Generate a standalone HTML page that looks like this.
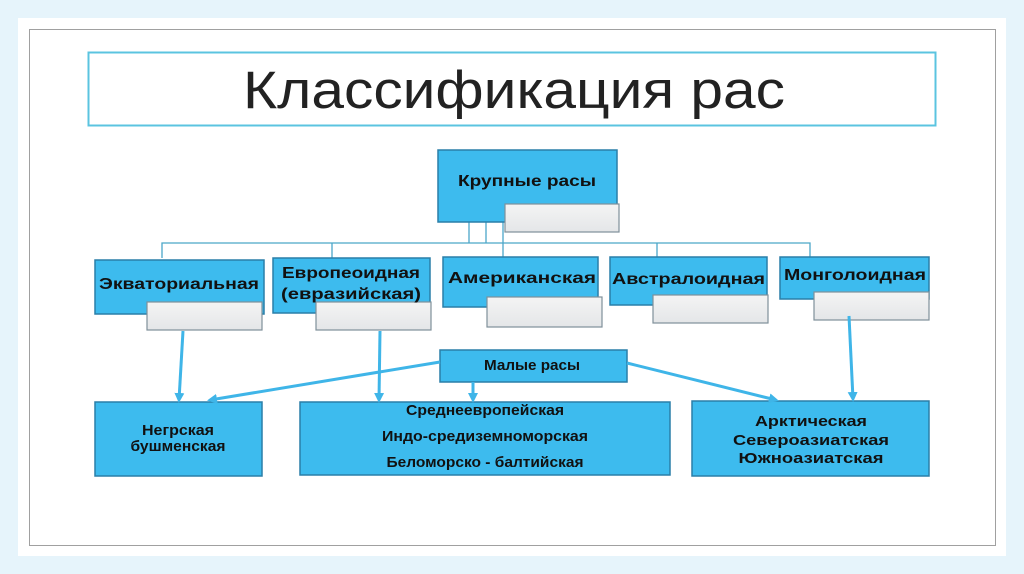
<!DOCTYPE html>
<html><head><meta charset="utf-8"><style>
html,body{margin:0;padding:0;background:#e6f4fb;}
svg{display:block}
text{font-family:"Liberation Sans",sans-serif;}
</style></head><body>
<svg width="1024" height="574" viewBox="0 0 1024 574" xmlns="http://www.w3.org/2000/svg">
<defs>
<linearGradient id="g" x1="0" y1="0" x2="0" y2="1"><stop offset="0" stop-color="#f4f4f4"/><stop offset="1" stop-color="#e4e6e8"/></linearGradient>
<marker id="a" markerWidth="10" markerHeight="10" refX="7" refY="5" orient="auto" markerUnits="userSpaceOnUse"><path d="M0,0 L10,5 L0,10 z" fill="#3fb5e8"/></marker>
</defs>
<rect x="0" y="0" width="1024" height="574" fill="#e6f4fb"/>
<rect x="18" y="18" width="988" height="538" fill="#fff"/>
<rect x="29.5" y="29.5" width="966" height="516" fill="none" stroke="#a0a0a0" stroke-width="1"/>
<rect x="88.5" y="52.5" width="847" height="73" fill="#fff" stroke="#5bc4e0" stroke-width="2"/>
<text x="243" y="108" font-size="53" fill="#222" textLength="542" lengthAdjust="spacingAndGlyphs">Классификация рас</text>

<g stroke="#4aa6c8" stroke-width="1.3" fill="none">
<path d="M162,258 V243 H810 V257"/>
<path d="M332,243 V258"/><path d="M657,243 V257"/>
<path d="M469,222 V243"/><path d="M486,222 V243"/><path d="M503,222 V257"/>
</g>

<g fill="#3dbbee" stroke="#2a7fa8" stroke-width="1.5">
<rect x="438" y="150" width="179" height="72"/>
<rect x="95" y="260" width="169" height="54"/>
<rect x="273" y="258" width="157" height="55"/>
<rect x="443" y="257" width="155" height="50"/>
<rect x="610" y="257" width="157" height="48"/>
<rect x="780" y="257" width="149" height="42"/>
<rect x="440" y="350" width="187" height="32"/>
<rect x="95" y="402" width="167" height="74"/>
<rect x="300" y="402" width="370" height="73"/>
<rect x="692" y="401" width="237" height="75"/>
</g>
<g fill="url(#g)" stroke="#7f909a" stroke-width="1.2">
<rect x="505" y="204" width="114" height="28"/>
<rect x="147" y="302" width="115" height="28"/>
<rect x="316" y="302" width="115" height="28"/>
<rect x="487" y="297" width="115" height="30"/>
<rect x="653" y="295" width="115" height="28"/>
<rect x="814" y="292" width="115" height="28"/>
</g>

<g stroke="#3fb5e8" stroke-width="3" fill="none" marker-end="url(#a)">
<path d="M183,331 L179,400"/>
<path d="M380,331 L379,400"/>
<path d="M440,362 L210,400"/>
<path d="M473,382 L473,400"/>
<path d="M627,363 L776,400"/>
<path d="M849,316 L853,399"/>
</g>

<g font-weight="bold" fill="#111" font-size="16">
<text x="527" y="186" text-anchor="middle" textLength="138" lengthAdjust="spacingAndGlyphs">Крупные расы</text>
<text x="99" y="289" textLength="160" lengthAdjust="spacingAndGlyphs">Экваториальная</text>
<text x="351" y="278" text-anchor="middle" textLength="138" lengthAdjust="spacingAndGlyphs">Европеоидная</text>
<text x="351" y="299" text-anchor="middle" textLength="140" lengthAdjust="spacingAndGlyphs">(евразийская)</text>
<text x="448" y="283" textLength="148" lengthAdjust="spacingAndGlyphs">Американская</text>
<text x="612" y="284" textLength="153" lengthAdjust="spacingAndGlyphs">Австралоидная</text>
<text x="784" y="280" textLength="142" lengthAdjust="spacingAndGlyphs">Монголоидная</text>
</g>
<g fill="#111" font-size="15" font-weight="bold">
<text x="532" y="370" text-anchor="middle" textLength="96" lengthAdjust="spacingAndGlyphs">Малые расы</text>
<text x="178" y="435" text-anchor="middle" textLength="72" lengthAdjust="spacingAndGlyphs">Негрская</text>
<text x="178" y="451" text-anchor="middle" textLength="95" lengthAdjust="spacingAndGlyphs">бушменская</text>
<text x="485" y="415" text-anchor="middle" textLength="158" lengthAdjust="spacingAndGlyphs">Среднеевропейская</text>
<text x="485" y="441" text-anchor="middle" textLength="206" lengthAdjust="spacingAndGlyphs">Индо-средиземноморская</text>
<text x="485" y="467" text-anchor="middle" textLength="197" lengthAdjust="spacingAndGlyphs">Беломорско - балтийская</text>
<text x="811" y="426" text-anchor="middle" textLength="112" lengthAdjust="spacingAndGlyphs">Арктическая</text>
<text x="811" y="445" text-anchor="middle" textLength="156" lengthAdjust="spacingAndGlyphs">Североазиатская</text>
<text x="811" y="463" text-anchor="middle" textLength="145" lengthAdjust="spacingAndGlyphs">Южноазиатская</text>
</g>
</svg>
</body></html>
